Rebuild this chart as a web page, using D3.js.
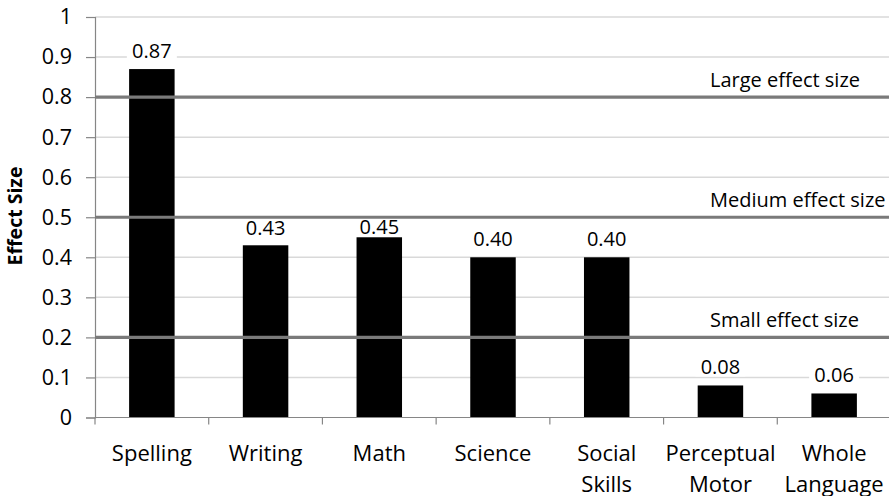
<!DOCTYPE html>
<html>
<head>
<meta charset="utf-8">
<script src="https://cdn.jsdelivr.net/npm/d3@7"></script>
<style>
  html, body { margin: 0; padding: 0; background: #fff; }
  svg { display: block; font-family: "Open Sans", sans-serif; }
</style>
</head>
<body>
<svg id="chart" width="889" height="496"></svg>
<script>
// Effect sizes by instructional area
const categories = ["Spelling", "Writing", "Math", "Science", "Social Skills", "Perceptual Motor", "Whole Language"];
const effectSizes = [0.87, 0.43, 0.45, 0.40, 0.40, 0.08, 0.06];
const valueLabels = ["0.87", "0.43", "0.45", "0.40", "0.40", "0.08", "0.06"];
const yTicks = [0, 0.1, 0.2, 0.3, 0.4, 0.5, 0.6, 0.7, 0.8, 0.9, 1];
const yTickLabels = ["0", "0.1", "0.2", "0.3", "0.4", "0.5", "0.6", "0.7", "0.8", "0.9", "1"];
// Reference thresholds
const thresholdValues = [0.8, 0.5, 0.2];
const thresholdNames = ["Large effect size", "Medium effect size", "Small effect size"];

const svg = d3.select("#chart");
const margin = { left: 95, right: -2, top: 17, bottom: 78.5 };
const W = 889, H = 496;

const x = d3.scaleBand()
  .domain(categories)
  .range([margin.left, W - margin.right])
  .paddingInner(0.6)
  .paddingOuter(0.3);

const y = d3.scaleLinear()
  .domain([0, 1])
  .range([H - margin.bottom, margin.top]);

// light gridlines
svg.append("g")
  .selectAll("line")
  .data(yTicks.filter(d => d > 0))
  .join("line")
  .attr("x1", margin.left).attr("x2", W)
  .attr("y1", d => y(d)).attr("y2", d => y(d))
  .attr("stroke", "#d9d9d9").attr("stroke-width", 1.5);

// y axis
const yAxis = svg.append("g")
  .attr("transform", `translate(${margin.left},0)`)
  .call(d3.axisLeft(y).tickValues(yTicks).tickFormat((d, i) => yTickLabels[i]).tickSize(9).tickPadding(14));
yAxis.select(".domain").attr("stroke", "#868686").attr("stroke-width", 1.2);
yAxis.selectAll(".tick line").attr("stroke", "#868686").attr("stroke-width", 1.2);
yAxis.selectAll(".tick text")
  .attr("font-family", "Open Sans, sans-serif")
  .attr("font-size", 21.5).attr("fill", "#000");

// bars
svg.append("g")
  .selectAll("rect")
  .data(categories)
  .join("rect")
  .attr("x", d => x(d))
  .attr("width", x.bandwidth())
  .attr("y", (d, i) => y(effectSizes[i]))
  .attr("height", (d, i) => y(0) - y(effectSizes[i]))
  .attr("fill", "#000");

// x axis with category boundary ticks
const step = x.step();
const bounds = d3.range(categories.length + 1).map(i => margin.left + i * step);
const xAxisG = svg.append("g");
xAxisG.append("line")
  .attr("x1", margin.left).attr("x2", W)
  .attr("y1", y(0)).attr("y2", y(0))
  .attr("stroke", "#868686").attr("stroke-width", 1.2);
xAxisG.selectAll(".bt")
  .data(bounds)
  .join("line")
  .attr("class", "bt")
  .attr("x1", d => d).attr("x2", d => d)
  .attr("y1", y(0)).attr("y2", y(0) + 7)
  .attr("stroke", "#868686").attr("stroke-width", 1.2);

// category labels (split over two lines where needed)
const catLabels = svg.append("g")
  .selectAll("text")
  .data(categories)
  .join("text")
  .attr("text-anchor", "middle")
  .attr("font-size", 22)
  .attr("fill", "#000")
  .attr("transform", d => `translate(${x(d) + x.bandwidth() / 2},${y(0) + 43})`);
catLabels.each(function(d) {
  const words = d.split(" ");
  d3.select(this).selectAll("tspan")
    .data(words)
    .join("tspan")
    .attr("x", 0)
    .attr("dy", (w, i) => i === 0 ? 0 : 31)
    .text(w => w);
});

// value label baseline: above the bar, nudged down below a threshold line if it would touch one
const labelCap = 15;
function labelBaseline(v) {
  let b = y(v) - 11;
  thresholdValues.forEach(t => {
    const ly = y(t);
    if (b - labelCap < ly + 3 && b > ly - 3) b = Math.min(y(v) - 3, ly + 3 + labelCap);
  });
  return b;
}

// value label backgrounds sit under the threshold lines
const vl = svg.append("g")
  .selectAll("g")
  .data(categories)
  .join("g")
  .attr("transform", (d, i) => `translate(${x(d) + x.bandwidth() / 2},${labelBaseline(effectSizes[i])})`);
vl.append("rect")
  .attr("x", -25).attr("y", -19).attr("width", 50).attr("height", 21)
  .attr("fill", "#fff");

// threshold lines drawn above bars
svg.append("g")
  .selectAll("line")
  .data(thresholdValues)
  .join("line")
  .attr("x1", margin.left).attr("x2", W)
  .attr("y1", d => y(d)).attr("y2", d => y(d))
  .attr("stroke", "#7a7a7a").attr("stroke-width", 3.2);

svg.append("g")
  .selectAll("text")
  .data(thresholdValues)
  .join("text")
  .attr("x", 710)
  .attr("y", d => y(d) - 10)
  .attr("font-size", 20)
  .attr("fill", "#000")
  .text((d, i) => thresholdNames[i]);

vl.append("text")
  .attr("text-anchor", "middle")
  .attr("font-size", 20)
  .attr("fill", "#000")
  .text((d, i) => valueLabels[i]);

// y axis title
svg.append("text")
  .attr("transform", `translate(22,216) rotate(-90)`)
  .attr("text-anchor", "middle")
  .attr("font-size", 19.5)
  .attr("font-weight", "bold")
  .attr("fill", "#000")
  .text("Effect Size");
</script>
</body>
</html>
